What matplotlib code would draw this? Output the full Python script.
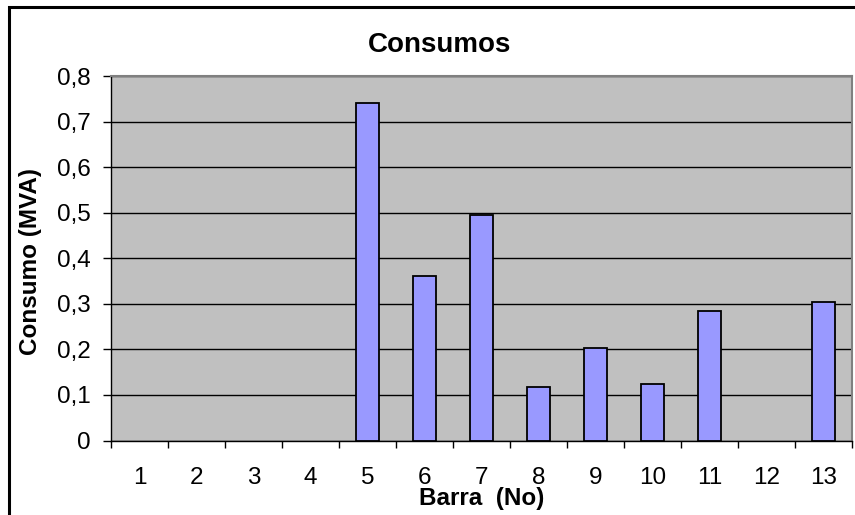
import matplotlib
matplotlib.use("Agg")
import matplotlib.pyplot as plt
from matplotlib.patches import Rectangle
from matplotlib.ticker import FuncFormatter, MultipleLocator

# data
barras = [1, 2, 3, 4, 5, 6, 7, 8, 9, 10, 11, 12, 13]
consumo = [0, 0, 0, 0, 0.741, 0.360, 0.494, 0.117, 0.203, 0.124, 0.285, 0, 0.305]

plt.rcParams['font.family'] = ['Liberation Sans', 'DejaVu Sans']

fig = plt.figure(figsize=(8.55, 5.15), dpi=100)
ax = fig.add_axes([111/855, 74.5/515, 741/855, 364.5/515])
ax.set_facecolor('#c0c0c0')

x = list(range(len(barras)))
# zero bars are not drawn in the original (no outline)
edges = ['black' if v > 0 else 'none' for v in consumo]
ax.bar(x, consumo, width=0.4, color='#9999ff', edgecolor=edges, linewidth=1.3, zorder=3)

ax.set_xlim(-0.5, len(barras) - 0.5)
ax.set_ylim(0, 0.8)
ax.yaxis.set_major_locator(MultipleLocator(0.1))
ax.yaxis.set_major_formatter(FuncFormatter(lambda v, p: '0' if abs(v) < 1e-9 else f"{v:.1f}".replace('.', ',')))
ax.grid(axis='y', color='black', linewidth=1, zorder=1)

# category labels centred, tick marks between categories
ax.set_xticks(x)
ax.set_xticklabels([str(b) for b in barras])
ax.set_xticks([i - 0.5 for i in range(len(barras) + 1)], minor=True)
ax.tick_params(axis='x', which='major', length=0, pad=19, labelsize=17.5)
ax.tick_params(axis='x', which='minor', length=5, width=1, direction='out', color='black')
ax.tick_params(axis='y', length=5.5, width=1, direction='out', labelsize=17.5, pad=9)

for side in ['top', 'right']:
    ax.spines[side].set_color('#808080')
    ax.spines[side].set_linewidth(1.5)
for side in ['left', 'bottom']:
    ax.spines[side].set_color('black')
    ax.spines[side].set_linewidth(1)

fig.text(440/855, 1 - 51.7/515, 'Consumos', ha='center', va='baseline', fontsize=20, fontweight='bold')
fig.text(482/855, 1 - 505/515, 'Barra  (No)', ha='center', va='baseline', fontsize=17.5, fontweight='bold')
fig.text(31/855, 1 - 261.5/515, 'Consumo (MVA)', ha='center', va='center', rotation=90, fontsize=17.5, fontweight='bold')

# chart area border (right and bottom run off the image)
fig.patches.append(Rectangle((9/855, -0.1), 1.1, 1.1 - 7/515, transform=fig.transFigure,
                             fill=False, edgecolor='black', linewidth=2.2))

fig.savefig('out.png', dpi=100)
